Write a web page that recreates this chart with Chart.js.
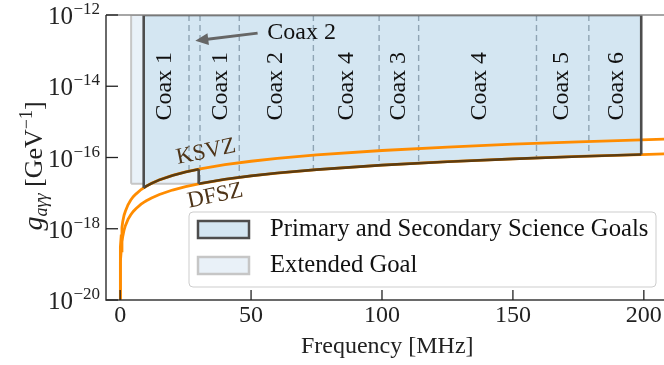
<!DOCTYPE html>
<html>
<head>
<meta charset="UTF-8">
<script src="https://cdn.jsdelivr.net/npm/chart.js"></script>
<style>
  html, body { margin: 0; padding: 0; background: #fff; }
  #wrap { width: 664px; height: 365px; }
</style>
</head>
<body>
<div id="wrap"><canvas id="c" width="664" height="365"></canvas></div>
<script>
// benchmark axion lines (MHz -> GeV^-1)
const freqs = [0.006, 0.02, 0.05, 0.1, 0.2, 0.4, 0.7, 1, 1.5, 2, 3, 4, 5, 6, 8, 9, 10, 12, 15, 20, 25, 30, 40, 50, 60, 75, 100, 125, 150, 175, 199, 210];
const ksvz = [9.4e-21, 3.1e-20, 7.9e-20, 1.6e-19, 3.1e-19, 6.3e-19, 1.1e-18, 1.6e-18, 2.4e-18, 3.1e-18, 4.7e-18, 6.3e-18, 7.9e-18, 9.4e-18, 1.26e-17, 1.41e-17, 1.57e-17, 1.88e-17, 2.36e-17, 3.14e-17, 3.93e-17, 4.71e-17, 6.28e-17, 7.85e-17, 9.42e-17, 1.18e-16, 1.57e-16, 1.96e-16, 2.36e-16, 2.75e-16, 3.12e-16, 3.3e-16];
const dfsz = [3.7e-21, 1.2e-20, 3.1e-20, 6.1e-20, 1.2e-19, 2.4e-19, 4.3e-19, 6.1e-19, 9.2e-19, 1.22e-18, 1.83e-18, 2.44e-18, 3.05e-18, 3.66e-18, 4.88e-18, 5.49e-18, 6.1e-18, 7.32e-18, 9.15e-18, 1.22e-17, 1.53e-17, 1.83e-17, 2.44e-17, 3.05e-17, 3.66e-17, 4.58e-17, 6.1e-17, 7.63e-17, 9.15e-17, 1.07e-16, 1.21e-16, 1.28e-16];

// science goal regions
const gTop = 1e-12;
const primaryLo = 9, primaryStep = 30, primaryHi = 199;
const extendedLo = 4.2, extendedHi = 30, extendedFloor = 1.83e-17;

// coax boundaries and where each dashed line stops at the bottom
const coaxEdges = [26.3, 30.5, 45.5, 73.8, 98.9, 114, 159, 179];
const coaxEdgeLow = [4.13e-17, 1.86e-17, 2.78e-17, 4.5e-17, 6.03e-17, 6.95e-17, 9.7e-17, 1.09e-16];
const coaxNames = ['Coax 1', 'Coax 1', 'Coax 2', 'Coax 4', 'Coax 3', 'Coax 4', 'Coax 5', 'Coax 6'];
const coaxCenters = [17, 38.5, 59.6, 86.4, 106.3, 137.5, 168.6, 189.5];

const xTicks = [0, 50, 100, 150, 200];
const yTickExp = [-12, -14, -16, -18, -20];

const FONT = '"Liberation Serif", "DejaVu Serif", serif';
const GREY_EDGE = '#4d4d4d';
const BROWN_EDGE = '#5b3c12';
const ORANGE = '#ff8c00';

// primary region polygon: top edge, down the right side, along DFSZ, step up to KSVZ, back up
const primaryPts = [{x: primaryLo, y: gTop}, {x: primaryHi, y: gTop}];
for (let i = freqs.length - 1; i >= 0; i--) {
  if (freqs[i] <= primaryHi && freqs[i] >= primaryStep) primaryPts.push({x: freqs[i], y: dfsz[i]});
}
for (let i = freqs.length - 1; i >= 0; i--) {
  if (freqs[i] <= primaryStep && freqs[i] >= primaryLo) primaryPts.push({x: freqs[i], y: ksvz[i]});
}
primaryPts.push({x: primaryLo, y: gTop});

const extendedPts = [
  {x: extendedLo, y: extendedFloor}, {x: extendedLo, y: gTop},
  {x: extendedHi, y: gTop}, {x: extendedHi, y: extendedFloor},
  {x: extendedLo, y: extendedFloor}
];

const base = {pointRadius: 0, tension: 0, parsing: false};

const dividerSets = coaxEdges.map((x, i) => ({
  ...base,
  data: [{x: x, y: gTop}, {x: x, y: coaxEdgeLow[i]}],
  borderColor: '#8fa4b4', borderWidth: 1.4, borderDash: [6, 4], fill: false
}));

const datasets = [
  {
    ...base, data: primaryPts, borderWidth: 2.6, fill: false,
    borderColor: GREY_EDGE,
    segment: {
      borderColor: c => (c.p0.parsed.x === c.p1.parsed.x || (c.p0.parsed.y === gTop && c.p1.parsed.y === gTop)) ? GREY_EDGE : BROWN_EDGE
    }
  },
  {...base, data: freqs.map((f, i) => ({x: f, y: ksvz[i]})), borderColor: ORANGE, borderWidth: 2.8, fill: false},
  {...base, data: freqs.map((f, i) => ({x: f, y: dfsz[i]})), borderColor: ORANGE, borderWidth: 2.8, fill: false},
  ...dividerSets,
  {...base, data: primaryPts, borderWidth: 0, borderColor: 'rgba(0,0,0,0)', backgroundColor: '#d4e6f2', fill: 'shape'},
  {...base, data: extendedPts, borderWidth: 2, borderColor: '#c6c6c6', backgroundColor: '#e9f1f8', fill: 'shape'}
];

function supLabel(ctx, big, small, xRight, y, fs, ss) {
  ctx.font = ss + 'px ' + FONT;
  const sw = ctx.measureText(small).width;
  ctx.textAlign = 'left';
  ctx.textBaseline = 'alphabetic';
  ctx.fillText(small, xRight - sw, y - 10);
  ctx.font = fs + 'px ' + FONT;
  ctx.textAlign = 'right';
  ctx.fillText(big, xRight - sw - 0.5, y);
}

function runs(ctx, pieces, cx, cy) {
  let total = 0;
  pieces.forEach(p => { ctx.font = p.f; p.w = ctx.measureText(p.t).width; total += p.w; });
  let x = cx - total / 2;
  ctx.textAlign = 'left';
  ctx.textBaseline = 'alphabetic';
  pieces.forEach(p => { ctx.font = p.f; ctx.fillText(p.t, x, cy + (p.dy || 0)); x += p.w; });
}

const decor = {
  id: 'decor',
  afterDatasetsDraw(chart) {
    const {ctx, chartArea: a, scales: {x: sx, y: sy}} = chart;
    ctx.save();

    // spines
    ctx.lineWidth = 1.5;
    ctx.strokeStyle = '#888';
    ctx.beginPath(); ctx.moveTo(a.left, a.top); ctx.lineTo(a.right, a.top); ctx.stroke();
    ctx.strokeStyle = '#3a3a3a';
    ctx.beginPath(); ctx.moveTo(a.left, a.top); ctx.lineTo(a.left, a.bottom); ctx.lineTo(a.right, a.bottom); ctx.stroke();

    // inward ticks + labels
    ctx.fillStyle = '#222';
    ctx.strokeStyle = '#222';
    ctx.lineWidth = 1.3;
    xTicks.forEach(v => {
      const px = sx.getPixelForValue(v);
      ctx.beginPath(); ctx.moveTo(px, a.bottom); ctx.lineTo(px, a.bottom - 10); ctx.stroke();
      ctx.font = '24px ' + FONT;
      ctx.textAlign = 'center'; ctx.textBaseline = 'top';
      ctx.fillText(String(v), px, a.bottom + 4);
    });
    yTickExp.forEach(e => {
      const py = sy.getPixelForValue(Math.pow(10, e));
      ctx.beginPath(); ctx.moveTo(a.left, py); ctx.lineTo(a.left + 12, py); ctx.stroke();
      supLabel(ctx, '10', '\u2212' + Math.abs(e), a.left - 6, py + 9, 25, 17);
    });

    // axis titles
    ctx.font = '24px ' + FONT;
    ctx.textAlign = 'center'; ctx.textBaseline = 'alphabetic';
    ctx.fillText('Frequency [MHz]', sx.getPixelForValue(102), 353);
    ctx.save();
    ctx.translate(42, 166);
    ctx.rotate(-Math.PI / 2);
    runs(ctx, [
      {t: 'g', f: 'italic 28px ' + FONT},
      {t: 'a\u03b3\u03b3', f: 'italic 18px ' + FONT, dy: 5},
      {t: ' [GeV', f: '26px ' + FONT},
      {t: '\u22121', f: '18px ' + FONT, dy: -10},
      {t: ']', f: '26px ' + FONT}
    ], 0, 0);
    ctx.restore();

    // coax labels
    ctx.fillStyle = '#111';
    ctx.font = '24px ' + FONT;
    coaxNames.forEach((n, i) => {
      ctx.save();
      ctx.translate(sx.getPixelForValue(coaxCenters[i]), sy.getPixelForValue(1e-14));
      ctx.rotate(-Math.PI / 2);
      ctx.textAlign = 'center'; ctx.textBaseline = 'middle';
      ctx.fillText(n, 0, 0);
      ctx.restore();
    });

    // "Coax 2" arrow annotation
    const tipX = sx.getPixelForValue(28.7), tipY = sy.getPixelForValue(1.9e-13);
    const tailX = sx.getPixelForValue(52.5), tailY = sy.getPixelForValue(3.1e-13);
    const ang = Math.atan2(tipY - tailY, tipX - tailX);
    ctx.strokeStyle = '#666'; ctx.fillStyle = '#666'; ctx.lineWidth = 3;
    ctx.beginPath();
    ctx.moveTo(tailX, tailY);
    ctx.lineTo(tipX - 10 * Math.cos(ang), tipY - 10 * Math.sin(ang));
    ctx.stroke();
    ctx.beginPath();
    ctx.moveTo(tipX, tipY);
    ctx.lineTo(tipX - 13 * Math.cos(ang) + 6 * Math.sin(ang), tipY - 13 * Math.sin(ang) - 6 * Math.cos(ang));
    ctx.lineTo(tipX - 13 * Math.cos(ang) - 6 * Math.sin(ang), tipY - 13 * Math.sin(ang) + 6 * Math.cos(ang));
    ctx.closePath(); ctx.fill();
    ctx.fillStyle = '#111';
    ctx.font = '24px ' + FONT;
    ctx.textAlign = 'left'; ctx.textBaseline = 'middle';
    ctx.fillText('Coax 2', sx.getPixelForValue(56.2), tailY);

    // KSVZ / DFSZ labels
    ctx.fillStyle = '#4e3418';
    ctx.font = '23px ' + FONT;
    [['KSVZ', 32.8, 1.43e-16], ['DFSZ', 36.3, 8.3e-18]].forEach(([t, fx, gy]) => {
      ctx.save();
      ctx.translate(sx.getPixelForValue(fx), sy.getPixelForValue(gy));
      ctx.rotate(-11.8 * Math.PI / 180);
      ctx.textAlign = 'center'; ctx.textBaseline = 'middle';
      ctx.fillText(t, 0, 0);
      ctx.restore();
    });

    // legend
    const lx = 189, ly = 212, lw = 467, lh = 75;
    ctx.fillStyle = 'rgba(255,255,255,0.85)';
    ctx.strokeStyle = 'rgba(200,200,200,0.9)';
    ctx.lineWidth = 1;
    ctx.beginPath(); ctx.roundRect(lx, ly, lw, lh, 4); ctx.fill(); ctx.stroke();
    ctx.lineWidth = 2.5;
    ctx.fillStyle = '#d4e6f2'; ctx.strokeStyle = GREY_EDGE;
    ctx.fillRect(198, 221, 51, 17); ctx.strokeRect(198, 221, 51, 17);
    ctx.fillStyle = '#e9f1f8'; ctx.strokeStyle = '#c6c6c6';
    ctx.fillRect(198, 257, 51, 17); ctx.strokeRect(198, 257, 51, 17);
    ctx.fillStyle = '#111';
    ctx.font = '24.7px ' + FONT;
    ctx.textAlign = 'left'; ctx.textBaseline = 'middle';
    ctx.fillText('Primary and Secondary Science Goals', 270, 230);
    ctx.fillText('Extended Goal', 270, 266);

    ctx.restore();
  }
};

new Chart(document.getElementById('c'), {
  type: 'line',
  data: {datasets: datasets},
  options: {
    responsive: false,
    animation: false,
    layout: {padding: {left: 106, right: 0, top: 15, bottom: 65}},
    plugins: {legend: {display: false}, tooltip: {enabled: false}},
    scales: {
      x: {type: 'linear', min: -5.4, max: 207.7, display: false},
      y: {type: 'logarithmic', min: 1e-20, max: 1e-12, display: false}
    }
  },
  plugins: [decor]
});
</script>
</body>
</html>
